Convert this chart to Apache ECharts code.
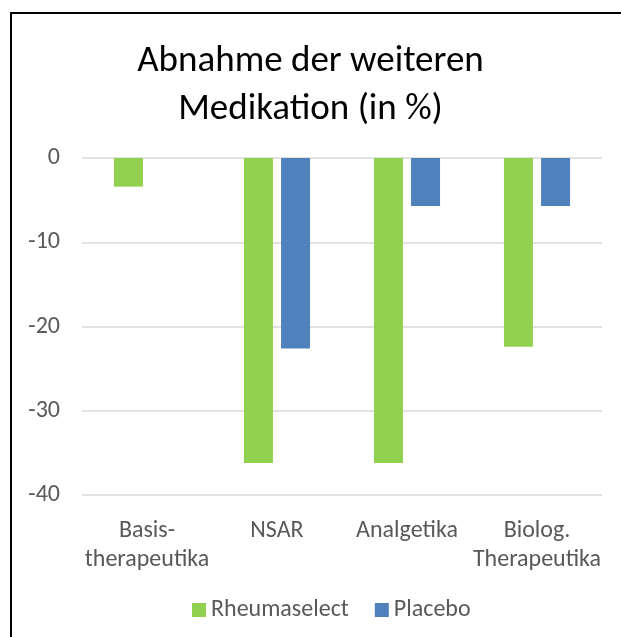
<!DOCTYPE html>
<html>
<head>
    <meta charset="UTF-8" />
    <title>Abnahme der weiteren Medikation</title>
    <style>
        body { margin: 0; background: #fff; }
        #frame { position: absolute; left: 10px; top: 12px; width: 700px; height: 700px; border: 2px solid #000; }
        #A { position: absolute; left: 0; top: 0; width: 621px; height: 637px; }
    </style>
</head>
<body>
    <div id="frame"></div>
    <div id="A"></div>
    <script src="https://cdn.jsdelivr.net/npm/echarts@6/dist/echarts.min.js"></script>
    <script>
        // Daten
        var categories = ['Basis-\ntherapeutika', 'NSAR', 'Analgetika', 'Biolog.\nTherapeutika'];
        var rheumaselect = [-3.4, -36.2, -36.2, -22.4];
        var placebo = [0, -22.6, -5.7, -5.7];
        var yTicks = [0, -10, -20, -30, -40];

        var font = 'Carlito, Calibri, "Open Sans", sans-serif';
        var myChart = echarts.init(document.getElementById('A'));

        var option = {
            animation: false,
            title: {
                text: 'Abnahme der weiteren\nMedikation (in %)',
                left: 'center',
                top: 33,
                textStyle: {
                    fontFamily: font,
                    fontSize: 37,
                    fontWeight: 'normal',
                    color: '#000',
                    lineHeight: 48
                }
            },
            legend: {
                data: ['Rheumaselect', 'Placebo'],
                top: 593,
                left: 187,
                itemWidth: 14,
                itemHeight: 14,
                itemGap: 26,
                icon: 'rect',
                textStyle: { fontFamily: font, fontSize: 24, color: '#595959' }
            },
            grid: { left: 82, right: 19, top: 158, bottom: 142, containLabel: false },
            xAxis: {
                type: 'category',
                data: categories,
                position: 'bottom',
                axisLine: { show: false },
                axisTick: { show: false },
                axisLabel: {
                    interval: 0,
                    margin: 21,
                    fontFamily: font,
                    fontSize: 24,
                    color: '#595959',
                    lineHeight: 29
                }
            },
            yAxis: {
                type: 'value',
                min: yTicks[yTicks.length - 1],
                max: yTicks[0],
                interval: 10,
                axisLine: { show: false },
                axisTick: { show: false },
                axisLabel: { margin: 22, fontFamily: font, fontSize: 24, color: '#595959' },
                splitLine: { lineStyle: { color: '#d9d9d9', width: 1.5 } }
            },
            series: [
                {
                    name: 'Rheumaselect',
                    type: 'bar',
                    data: rheumaselect,
                    barWidth: 29,
                    barGap: '28%',
                    itemStyle: { color: '#92d050' }
                },
                {
                    name: 'Placebo',
                    type: 'bar',
                    data: placebo,
                    barWidth: 29,
                    itemStyle: { color: '#4f81bd' }
                }
            ]
        };

        myChart.setOption(option);
    </script>
</body>
</html>
